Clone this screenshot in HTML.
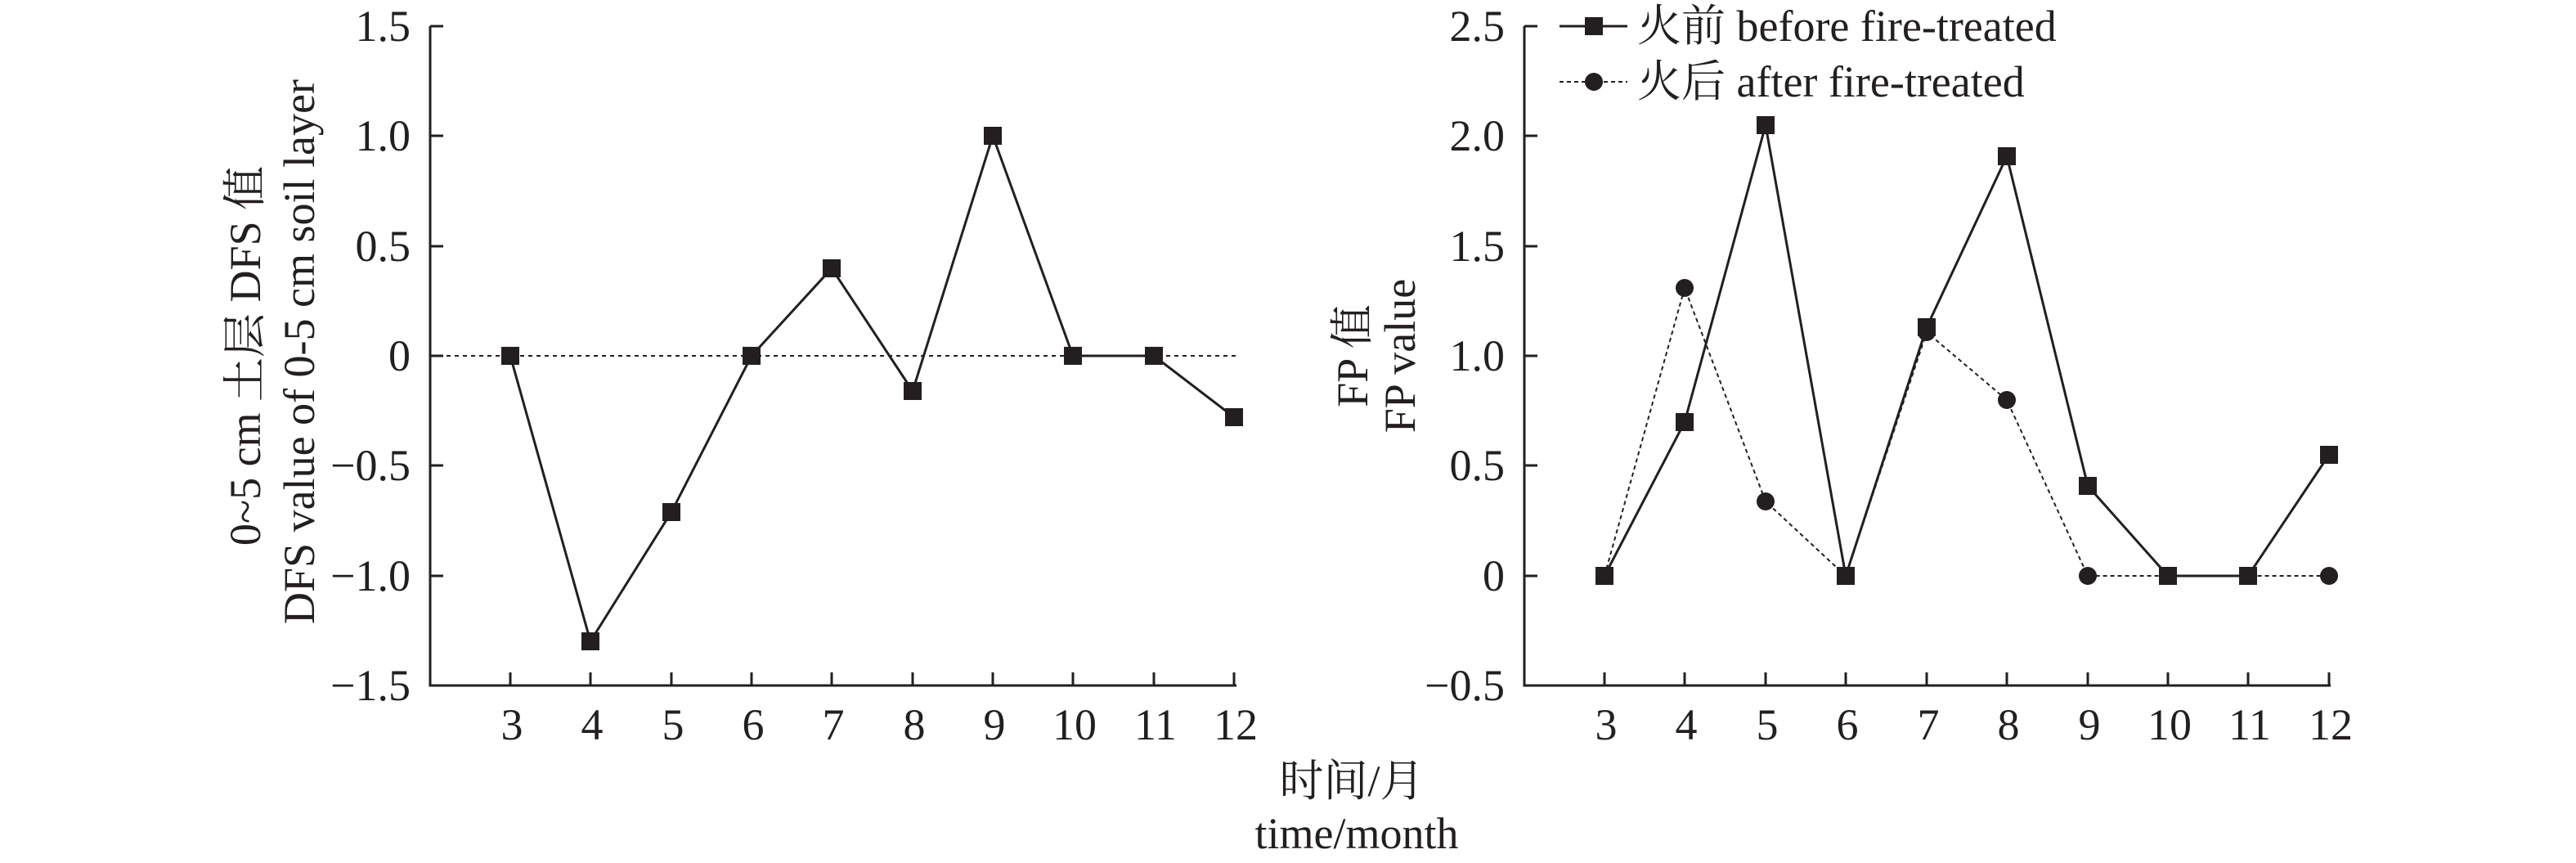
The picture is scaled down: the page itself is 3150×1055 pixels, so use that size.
<!DOCTYPE html>
<html><head><meta charset="utf-8"><style>
html,body{margin:0;padding:0;background:#fff;}
svg{display:block;}
text{font-family:"Liberation Serif","Noto Serif CJK SC","Noto Sans CJK SC",serif;fill:#231f20;}
</style></head><body>
<svg width="3150" height="1055" viewBox="0 0 3150 1055" xmlns="http://www.w3.org/2000/svg">
<g stroke="#231f20" stroke-width="3" fill="none">
<!-- left axes -->
<path d="M526,32 V838 H1512"/>
<path d="M526,32 H542 M526,166 H542 M526,301 H542 M526,435 H542 M526,569 H542 M526,704 H542"/>
<path d="M624,838 V822 M722,838 V822 M821,838 V822 M919,838 V822 M1017,838 V822 M1116,838 V822 M1214,838 V822 M1312,838 V822 M1411,838 V822 M1509,838 V822"/>
<!-- right axes -->
<path d="M1864,32 V838 H2850"/>
<path d="M1864,32 H1880 M1864,166 H1880 M1864,301 H1880 M1864,435 H1880 M1864,569 H1880 M1864,704 H1880"/>
<path d="M1962,838 V822 M2060,838 V822 M2159,838 V822 M2257,838 V822 M2356,838 V822 M2454,838 V822 M2553,838 V822 M2651,838 V822 M2749,838 V822 M2848,838 V822"/>
</g>
<!-- left zero dotted line -->
<path d="M526,435 H1512" stroke="#231f20" stroke-width="2" stroke-dasharray="5,5" fill="none"/>
<!-- left series -->
<polyline fill="none" stroke="#231f20" stroke-width="3" points="624,435 722,784 821,626 919,435 1017,328 1116,478 1214,166 1312,435 1411,435 1509,510"/>
<g fill="#231f20">
<rect x="613" y="424" width="22" height="22"/><rect x="711" y="773" width="22" height="22"/><rect x="810" y="615" width="22" height="22"/><rect x="908" y="424" width="22" height="22"/><rect x="1006" y="317" width="22" height="22"/><rect x="1105" y="467" width="22" height="22"/><rect x="1203" y="155" width="22" height="22"/><rect x="1301" y="424" width="22" height="22"/><rect x="1400" y="424" width="22" height="22"/><rect x="1498" y="499" width="22" height="22"/>
</g>
<!-- right after series (dotted) -->
<polyline fill="none" stroke="#231f20" stroke-width="2" stroke-dasharray="5,4" points="1962,704 2060,352 2159,613 2257,704 2356,406 2454,489 2553,704 2651,704 2749,704 2848,704"/>
<!-- right before series -->
<polyline fill="none" stroke="#231f20" stroke-width="3" points="1962,704 2060,516 2159,153 2257,704 2356,400 2454,191 2553,594 2651,704 2749,704 2848,556"/>
<g fill="#231f20">
<circle cx="1962" cy="704" r="11"/><circle cx="2060" cy="352" r="11"/><circle cx="2159" cy="613" r="11"/><circle cx="2257" cy="704" r="11"/><circle cx="2356" cy="406" r="11"/><circle cx="2454" cy="489" r="11"/><circle cx="2553" cy="704" r="11"/><circle cx="2651" cy="704" r="11"/><circle cx="2749" cy="704" r="11"/><circle cx="2848" cy="704" r="11"/>
<rect x="1951" y="693" width="22" height="22"/><rect x="2049" y="505" width="22" height="22"/><rect x="2148" y="142" width="22" height="22"/><rect x="2246" y="693" width="22" height="22"/><rect x="2345" y="389" width="22" height="22"/><rect x="2443" y="180" width="22" height="22"/><rect x="2542" y="583" width="22" height="22"/><rect x="2640" y="693" width="22" height="22"/><rect x="2738" y="693" width="22" height="22"/><rect x="2837" y="545" width="22" height="22"/>
</g>
<!-- legend -->
<path d="M1907,32 H1990" stroke="#231f20" stroke-width="3"/>
<rect x="1938" y="21" width="22" height="22" fill="#231f20"/>
<path d="M1907,100 H1990" stroke="#231f20" stroke-width="2" stroke-dasharray="5,4"/>
<circle cx="1949" cy="100" r="11" fill="#231f20"/>
<g font-size="54">
<text x="2002" y="50">火前 before fire-treated</text>
<text x="2002" y="118">火后 after fire-treated</text>
</g>
<!-- tick labels -->
<g font-size="54" text-anchor="end">
<text x="502" y="50">1.5</text><text x="502" y="184">1.0</text><text x="502" y="319">0.5</text><text x="502" y="453">0</text><text x="502" y="587">−0.5</text><text x="502" y="722">−1.0</text><text x="502" y="856">−1.5</text>
<text x="1840" y="50">2.5</text><text x="1840" y="184">2.0</text><text x="1840" y="319">1.5</text><text x="1840" y="453">1.0</text><text x="1840" y="587">0.5</text><text x="1840" y="722">0</text><text x="1840" y="856">−0.5</text>
</g>
<g font-size="54" text-anchor="middle">
<text x="626" y="904">3</text><text x="724" y="904">4</text><text x="823" y="904">5</text><text x="921" y="904">6</text><text x="1019" y="904">7</text><text x="1118" y="904">8</text><text x="1216" y="904">9</text><text x="1314" y="904">10</text><text x="1413" y="904">11</text><text x="1511" y="904">12</text>
<text x="1964" y="904">3</text><text x="2062" y="904">4</text><text x="2161" y="904">5</text><text x="2259" y="904">6</text><text x="2358" y="904">7</text><text x="2456" y="904">8</text><text x="2555" y="904">9</text><text x="2653" y="904">10</text><text x="2751" y="904">11</text><text x="2850" y="904">12</text>
<text x="1653" y="973">时间/月</text>
<text x="1659" y="1037">time/month</text>
<text transform="translate(318,435) rotate(-90)">0~5 cm 土层 DFS 值</text>
<text transform="translate(384,430) rotate(-90)">DFS value of 0-5 cm soil layer</text>
<text transform="translate(1672,435) rotate(-90)">FP 值</text>
<text transform="translate(1730,435) rotate(-90)">FP value</text>
</g>
</svg>
</body></html>
